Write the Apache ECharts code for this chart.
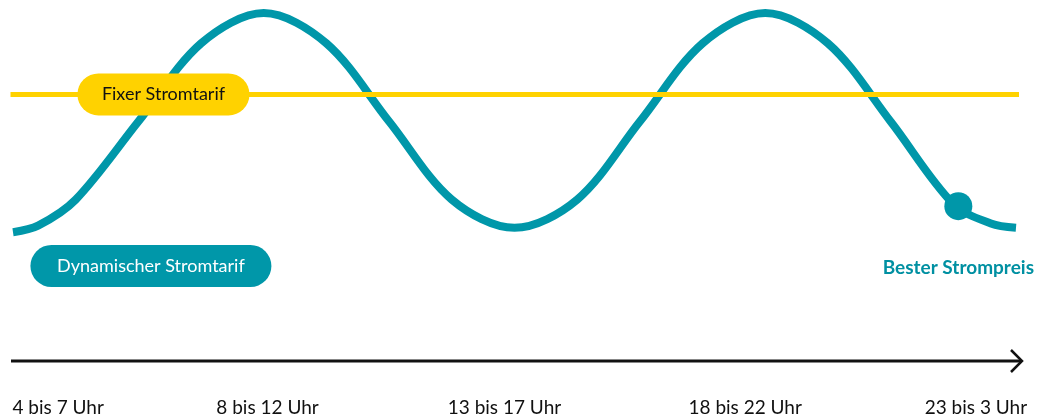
<!DOCTYPE html>
<html>
<head>
<meta charset="utf-8">
<script src="https://cdn.jsdelivr.net/npm/echarts@6/dist/echarts.min.js"></script>
<style>
    html, body { margin: 0; padding: 0; background: #fff; }
    #chart { width: 1046px; height: 419px; }
</style>
</head>
<body>
<div id="chart"></div>
<script>
    // Zeitabschnitte (untere Beschriftung) und ihre Lage auf der Zeitachse
    var timeSlots = ['4 bis 7 Uhr', '8 bis 12 Uhr', '13 bis 17 Uhr', '18 bis 22 Uhr', '23 bis 3 Uhr'];
    var timeSlotAt = [0.18, 1.015, 1.96, 2.92, 3.84];

    // dynamischer Preis, [x, Preis] (Preis 0 = Tief, 100 = Hoch), aus dem Bild geschätzt
    var dynamicPrice = [
        [0, -1], [0.1, 2], [0.25, 14], [0.5, 50], [0.75, 86], [1, 100],
        [1.25, 86], [1.5, 50], [1.75, 14], [2, 1],
        [2.25, 14], [2.5, 50], [2.75, 86], [3, 100],
        [3.25, 86], [3.5, 50], [3.75, 12], [3.9, 3], [4, 1]
    ];
    // fixer Preis
    var fixedPrice = [[-0.01, 62.5], [0.6, 62.5], [4.02, 62.5]];
    // bester Preis
    var bestPrice = [[3.77, 11]];
    // Beschriftung dynamischer Tarif
    var dynamicLabelAt = [[0.55, -16.6]];

    var teal = '#0097A9';
    var yellow = '#FFD200';
    var font = 'Lato';

    var chart = echarts.init(document.getElementById('chart'));

    var option = {
        animation: false,
        grid: [
            { left: 13, right: 30, top: 13, bottom: 189 },
            { left: 13, right: 30, top: 300, bottom: 58 }
        ],
        xAxis: [
            { type: 'value', gridIndex: 0, min: 0, max: 4, show: false },
            {
                type: 'value', gridIndex: 1, min: 0, max: 4,
                axisLine: { show: false }, axisTick: { show: false }, splitLine: { show: false },
                axisLabel: {
                    customValues: timeSlotAt,
                    formatter: function (v) {
                        return timeSlots[timeSlotAt.indexOf(v)];
                    },
                    showMinLabel: true, showMaxLabel: true,
                    margin: 37, color: '#111', fontSize: 19, fontFamily: font
                }
            }
        ],
        yAxis: [
            { type: 'value', gridIndex: 0, min: 0, max: 100, show: false },
            { type: 'value', gridIndex: 1, show: false }
        ],
        graphic: [
            {
                type: 'line', shape: { x1: 11, y1: 361, x2: 1021, y2: 361 },
                style: { stroke: '#111', lineWidth: 3 }
            },
            {
                type: 'polyline', shape: { points: [[1011, 350], [1022, 361], [1011, 372]] },
                style: { stroke: '#111', lineWidth: 2.5, fill: null }
            }
        ],
        series: [
            {
                name: 'Dynamischer Stromtarif',
                type: 'line',
                data: dynamicPrice,
                smooth: 0.33,
                showSymbol: false,
                clip: false,
                lineStyle: { color: teal, width: 8, cap: 'butt' },
                z: 2
            },
            {
                name: 'Dynamischer Stromtarif Label',
                type: 'scatter',
                data: dynamicLabelAt,
                symbolSize: 0,
                clip: false,
                itemStyle: { opacity: 1 },
                z: 5,
                label: {
                    show: true, position: 'inside',
                    formatter: 'Dynamischer Stromtarif',
                    color: '#fff', fontSize: 18, fontFamily: font,
                    width: 197, align: 'center',
                    backgroundColor: teal, borderRadius: 21,
                    padding: [11, 22], lineHeight: 20
                }
            },
            {
                name: 'Fixer Stromtarif',
                type: 'line',
                data: fixedPrice.map(function (p, i) {
                    if (i !== 1) return { value: p, symbolSize: 0 };
                    return {
                        value: p, symbol: 'circle', symbolSize: 1,
                        label: {
                            show: true, position: 'inside',
                            formatter: 'Fixer Stromtarif',
                            color: '#111', fontSize: 18, fontFamily: font,
                            width: 132, align: 'center',
                            backgroundColor: yellow, borderRadius: 21,
                            padding: [11, 20], lineHeight: 20
                        }
                    };
                }),
                showSymbol: true,
                symbol: 'none',
                clip: false,
                lineStyle: { color: yellow, width: 5 },
                itemStyle: { color: yellow },
                z: 3
            },
            {
                name: 'Bester Strompreis',
                type: 'scatter',
                data: bestPrice,
                symbolSize: 28,
                itemStyle: { color: teal, opacity: 1 },
                z: 4,
                label: {
                    show: true, position: 'bottom', distance: 38,
                    formatter: 'Bester Strompreis',
                    color: '#0090A2', fontSize: 19, fontWeight: 'bold', fontFamily: font
                }
            }
        ]
    };

    chart.setOption(option);
</script>
</body>
</html>
